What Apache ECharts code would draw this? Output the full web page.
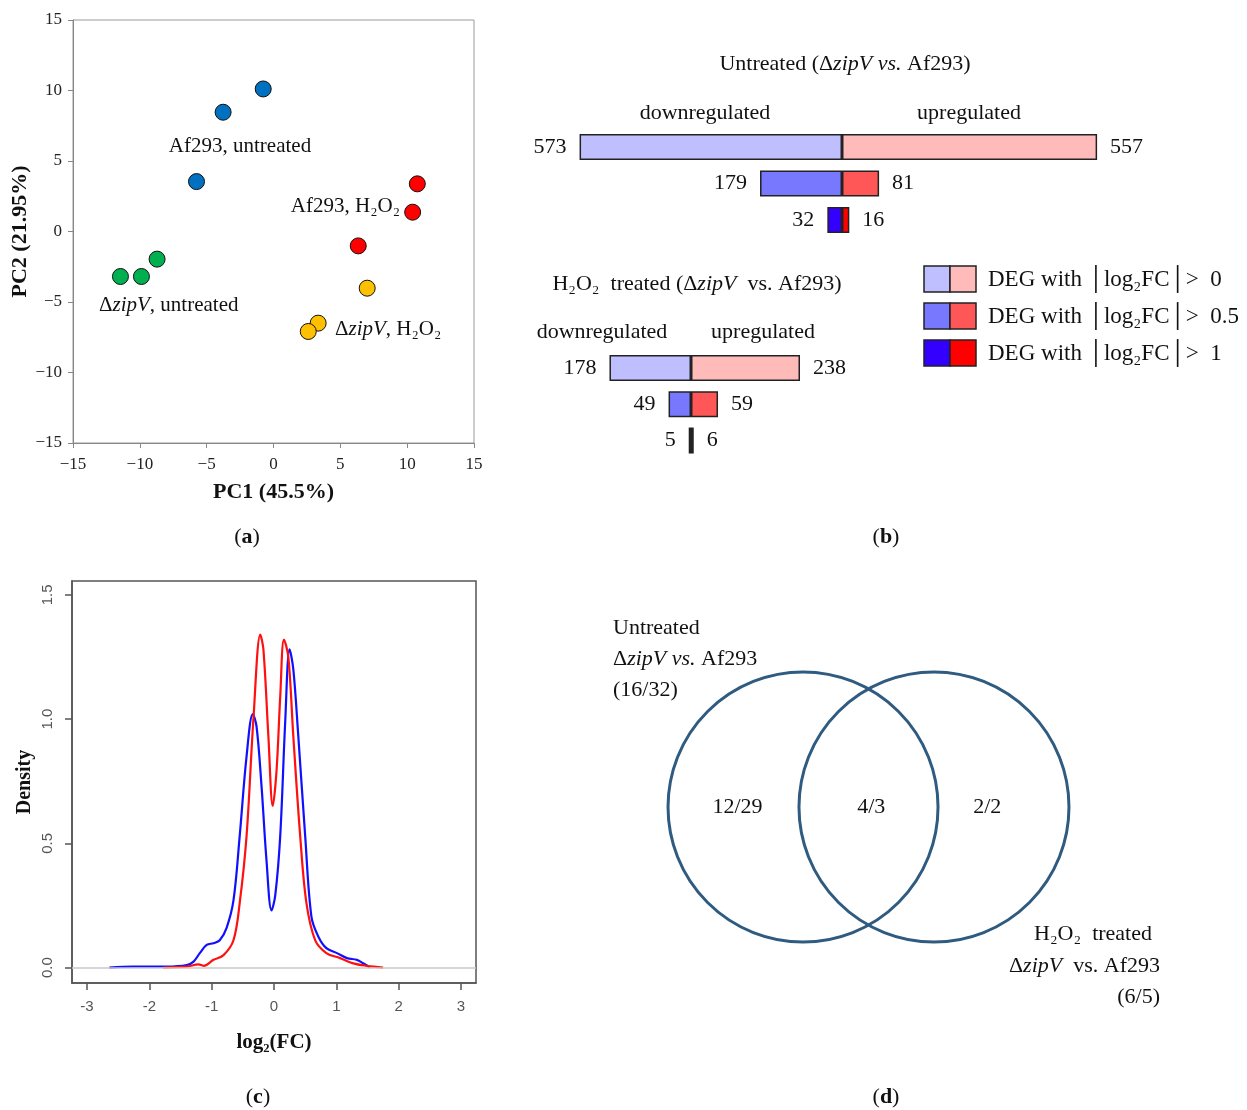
<!DOCTYPE html>
<html>
<head>
<meta charset="utf-8">
<script src="https://cdn.jsdelivr.net/npm/echarts/dist/echarts.min.js"></script>
<style>
  html, body { margin: 0; padding: 0; background: #fff; }
  #main { width: 1247px; height: 1110px; }
</style>
</head>
<body>
<div id="main"></div>
<script>
// (a) PCA scores
const af293Untreated = [[-0.77, 10.11], [-3.77, 8.46], [-5.76, 3.54]];
const af293H2O2 = [[10.76, 3.38], [10.41, 1.37], [6.34, -1.02]];
const zipVUntreated = [[-11.45, -3.19], [-9.88, -3.19], [-8.71, -1.96]];
const zipVH2O2 = [[7.01, -4.02], [3.34, -6.5], [2.6, -7.09]];

// (b) DEG counts per threshold (|log2FC| > 0, 0.5, 1)
const thresholds = ['>0', '>0.5', '>1'];
const untreatedDown = [573, 179, 32];
const untreatedUp = [557, 81, 16];
const treatedDown = [178, 49, 5];
const treatedUp = [238, 59, 6];
const downColors = ['#BFBFFF', '#7878FF', '#3300FF'];
const upColors = ['#FFBABA', '#FF5757', '#FF0000'];

// (c) density of log2(FC)
const densityBlue = [
  [-2.64, 0], [-2.26, 0.004], [-1.72, 0.004], [-1.40, 0.01], [-1.29, 0.024], [-1.19, 0.058],
  [-1.08, 0.091], [-0.97, 0.098], [-0.87, 0.11], [-0.76, 0.16], [-0.65, 0.27], [-0.55, 0.53],
  [-0.44, 0.85], [-0.34, 1.02], [-0.28, 0.97], [-0.20, 0.73], [-0.12, 0.43], [-0.04, 0.23],
  [0.02, 0.29], [0.10, 0.53], [0.18, 0.99], [0.25, 1.28], [0.31, 1.20], [0.39, 0.93],
  [0.50, 0.53], [0.60, 0.205], [0.71, 0.125], [0.84, 0.078], [1.01, 0.058], [1.17, 0.038],
  [1.33, 0.031], [1.43, 0.017], [1.54, 0]
];
const densityRed = [
  [-1.78, 0], [-1.40, 0.004], [-1.21, 0.013], [-1.13, 0.007], [-0.97, 0.031], [-0.81, 0.05],
  [-0.65, 0.11], [-0.55, 0.26], [-0.44, 0.53], [-0.33, 1.0], [-0.22, 1.34], [-0.17, 1.28],
  [-0.09, 0.93], [-0.02, 0.65], [0.04, 0.79], [0.10, 1.09], [0.16, 1.32], [0.23, 1.25],
  [0.31, 0.93], [0.42, 0.53], [0.52, 0.26], [0.66, 0.11], [0.84, 0.058], [1.06, 0.038],
  [1.27, 0.017], [1.49, 0.007], [1.75, 0]
];
const densityXTicks = [-3, -2, -1, 0, 1, 2, 3];
const densityYTicks = [0, 0.5, 1, 1.5];

// (d) Venn: two sets (circle centre x, centre y, radius) and region counts
const vennSets = [[-0.485, 0, 1], [0.485, 0, 1]];
const vennCounts = ['12/29', '4/3', '2/2'];
const vennCountX = [-0.97, 0.02, 0.88];

const SERIF = 'Liberation Serif';
const SANS = 'Liberation Sans';
const rich = (size, weight) => ({
  n: { fontFamily: SERIF, fontSize: size, fontWeight: weight || 'normal', color: '#111' },
  i: { fontFamily: SERIF, fontSize: size, fontStyle: 'italic', fontWeight: weight || 'normal', color: '#111' },
  b: { fontFamily: SERIF, fontSize: size, fontWeight: 'bold', color: '#111' }
});
function txt(x, y, text, size, align) {
  return {
    type: 'text', x: x, y: y, silent: true,
    style: {
      text: text, rich: rich(size), fontFamily: SERIF, fontSize: size, fill: '#111',
      align: align || 'center', verticalAlign: 'middle'
    }
  };
}
const minus = v => (v < 0 ? '\u2212' + Math.abs(v) : String(v));

const graphics = [
  // panel letters
  txt(247, 537, '{n|(}{b|a}{n|)}', 22),
  txt(886, 537, '{n|(}{b|b}{n|)}', 22),
  txt(258, 1097, '{n|(}{b|c}{n|)}', 22),
  txt(886, 1097, '{n|(}{b|d}{n|)}', 22),
  // (a) group labels
  txt(240, 146, '{n|Af293, untreated}', 21),
  txt(400, 206, '{n|Af293, H\u2082O\u2082}', 21, 'right'),
  txt(99, 305, '{n|\u0394}{i|zipV}{n|, untreated}', 21, 'left'),
  txt(335, 329, '{n|\u0394}{i|zipV}{n|, H\u2082O\u2082}', 21, 'left'),
  // (b) titles
  txt(845, 64, '{n|Untreated (\u0394}{i|zipV vs.}{n| Af293)}', 22),
  txt(705, 113, '{n|downregulated}', 22),
  txt(969, 113, '{n|upregulated}', 22),
  txt(697, 284, '{n|H\u2082O\u2082  treated (\u0394}{i|zipV}{n|  vs. Af293)}', 22),
  txt(602, 332, '{n|downregulated}', 22),
  txt(763, 332, '{n|upregulated}', 22),
  // (d) set labels
  txt(613, 628, '{n|Untreated}', 22, 'left'),
  txt(613, 659, '{n|\u0394}{i|zipV vs.}{n| Af293}', 22, 'left'),
  txt(613, 690, '{n|(16/32)}', 22, 'left'),
  txt(1152, 934, '{n|H\u2082O\u2082  treated}', 22, 'right'),
  txt(1160, 966, '{n|\u0394}{i|zipV}{n|  vs. Af293}', 22, 'right'),
  txt(1160, 997, '{n|(6/5)}', 22, 'right')
];
// (b) legend
const legendLabels = ['0', '0.5', '1'];
const legendTops = [266, 303, 340];
legendLabels.forEach((lab, k) => {
  graphics.push({ type: 'rect', shape: { x: 924, y: legendTops[k], width: 26, height: 26 },
    style: { fill: downColors[k], stroke: '#222', lineWidth: 1.5 } });
  graphics.push({ type: 'rect', shape: { x: 950, y: legendTops[k], width: 26, height: 26 },
    style: { fill: upColors[k], stroke: '#222', lineWidth: 1.5 } });
  graphics.push(txt(988, legendTops[k] + 14, '{n|DEG with \u2502log\u2082FC\u2502>  ' + lab + '}', 23, 'left'));
});

const scatterBase = {
  type: 'scatter', xAxisIndex: 0, yAxisIndex: 0, symbolSize: 16,
  itemStyle: { borderColor: '#111', borderWidth: 1, opacity: 1 }
};
function barSeries(gi, values, colors, sign, pos) {
  return {
    type: 'bar', xAxisIndex: gi, yAxisIndex: gi, stack: 'g' + gi, barWidth: 26,
    data: values.map((v, k) => ({ value: sign * v, itemStyle: { color: colors[k] } })),
    itemStyle: { borderColor: '#222', borderWidth: 1.5 },
    label: {
      show: true, position: pos, distance: 13, formatter: p => Math.abs(p.value),
      fontFamily: SERIF, fontSize: 22, color: '#111'
    }
  };
}

const rPlotAxisLabel = { fontFamily: SANS, fontSize: 15, color: '#555' };

const option = {
  animation: false,
  backgroundColor: '#fff',
  grid: [
    { left: 73, top: 20, width: 401, height: 423, show: true, borderColor: '#999', borderWidth: 1 },
    { left: 567.2, top: 128.75, width: 549.6, height: 109.5 },
    { left: 553.6, top: 349.9, width: 274.8, height: 108.75 },
    { left: 72, top: 581, width: 404, height: 402, show: true, borderColor: '#555', borderWidth: 1.5 },
    { left: 598.5, top: 604.5, width: 540, height: 405 }
  ],
  xAxis: [
    {
      gridIndex: 0, type: 'value', min: -15, max: 15, interval: 5,
      name: 'PC1 (45.5%)', nameLocation: 'middle', nameGap: 38,
      nameTextStyle: { fontFamily: SERIF, fontSize: 22, fontWeight: 'bold', color: '#111' },
      axisLine: { onZero: false, lineStyle: { color: '#888' } },
      axisTick: { show: true, length: 5, lineStyle: { color: '#888' } },
      axisLabel: { fontFamily: SERIF, fontSize: 17, color: '#222', margin: 13, formatter: minus },
      splitLine: { show: false }
    },
    { gridIndex: 1, type: 'value', min: -600, max: 600, show: false },
    { gridIndex: 2, type: 'value', min: -300, max: 300, show: false },
    {
      gridIndex: 3, type: 'value', min: -3.24, max: 3.24,
      name: 'log\u2082(FC)', nameLocation: 'middle', nameGap: 49,
      nameTextStyle: { fontFamily: SERIF, fontSize: 21, fontWeight: 'bold', color: '#111' },
      axisLine: { onZero: false, lineStyle: { color: '#555', width: 1.5 } },
      axisTick: { show: true, length: 7, customValues: densityXTicks, lineStyle: { color: '#555', width: 1.5 } },
      axisLabel: Object.assign({ margin: 16, customValues: densityXTicks }, rPlotAxisLabel),
      splitLine: { show: false }
    },
    { gridIndex: 4, type: 'value', min: -2, max: 2, show: false }
  ],
  yAxis: [
    {
      gridIndex: 0, type: 'value', min: -15, max: 15, interval: 5,
      name: 'PC2 (21.95%)', nameLocation: 'middle', nameGap: 41,
      nameTextStyle: { fontFamily: SERIF, fontSize: 22, fontWeight: 'bold', color: '#111' },
      axisLine: { show: true, onZero: false, lineStyle: { color: '#888' } },
      axisTick: { show: true, length: 5, lineStyle: { color: '#888' } },
      axisLabel: { fontFamily: SERIF, fontSize: 17, color: '#222', margin: 11, formatter: minus },
      splitLine: { show: false }
    },
    { gridIndex: 1, type: 'category', data: thresholds, inverse: true, show: false },
    { gridIndex: 2, type: 'category', data: thresholds, inverse: true, show: false },
    {
      gridIndex: 3, type: 'value', min: -0.0622, max: 1.5555,
      name: 'Density', nameLocation: 'middle', nameGap: 37,
      nameTextStyle: { fontFamily: SERIF, fontSize: 20, fontWeight: 'bold', color: '#111' },
      axisLine: { show: true, onZero: false, lineStyle: { color: '#555', width: 1.5 } },
      axisTick: { show: true, length: 7, customValues: densityYTicks, lineStyle: { color: '#555', width: 1.5 } },
      axisLabel: Object.assign({ margin: 17, rotate: 90, customValues: densityYTicks,
        formatter: v => v.toFixed(1) }, rPlotAxisLabel),
      splitLine: { show: false }
    },
    { gridIndex: 4, type: 'value', min: -1.5, max: 1.5, show: false }
  ],
  graphic: graphics,
  series: [
    Object.assign({ name: 'Af293, untreated', data: af293Untreated, color: '#0070C0' }, scatterBase),
    Object.assign({ name: 'Af293, H2O2', data: af293H2O2, color: '#FF0000' }, scatterBase),
    Object.assign({ name: 'zipV, untreated', data: zipVUntreated, color: '#00B050' }, scatterBase),
    Object.assign({ name: 'zipV, H2O2', data: zipVH2O2, color: '#FFC000' }, scatterBase),
    barSeries(1, untreatedDown, downColors, -1, 'left'),
    barSeries(1, untreatedUp, upColors, 1, 'right'),
    barSeries(2, treatedDown, downColors, -1, 'left'),
    barSeries(2, treatedUp, upColors, 1, 'right'),
    {
      type: 'line', xAxisIndex: 3, yAxisIndex: 3, data: densityBlue, showSymbol: false,
      smooth: 0.35, lineStyle: { color: '#1010FF', width: 2.2 }, color: '#1010FF',
      markLine: {
        silent: true, symbol: 'none', label: { show: false },
        lineStyle: { color: '#c8c8c8', type: 'solid', width: 1.5 },
        data: [{ yAxis: 0 }]
      },
      z: 3
    },
    {
      type: 'line', xAxisIndex: 3, yAxisIndex: 3, data: densityRed, showSymbol: false,
      smooth: 0.35, lineStyle: { color: '#FF1010', width: 2.2 }, color: '#FF1010', z: 4
    },
    {
      type: 'custom', xAxisIndex: 4, yAxisIndex: 4, data: vennSets,
      renderItem: (params, api) => {
        const c = api.coord([api.value(0), api.value(1)]);
        const r = api.size([api.value(2), 0])[0];
        return { type: 'circle', shape: { cx: c[0], cy: c[1], r: r },
          style: { fill: 'none', stroke: '#2F5B80', lineWidth: 3 } };
      }
    },
    {
      type: 'scatter', xAxisIndex: 4, yAxisIndex: 4, symbolSize: 1,
      itemStyle: { opacity: 0 },
      data: vennCounts.map((s, k) => ({ value: [vennCountX[k], 0], name: s })),
      label: { show: true, position: 'inside', formatter: p => p.name, opacity: 1,
        fontFamily: SERIF, fontSize: 22, color: '#111' }
    }
  ]
};

const myChart = echarts.init(document.getElementById('main'));
myChart.setOption(option);
</script>
</body>
</html>
